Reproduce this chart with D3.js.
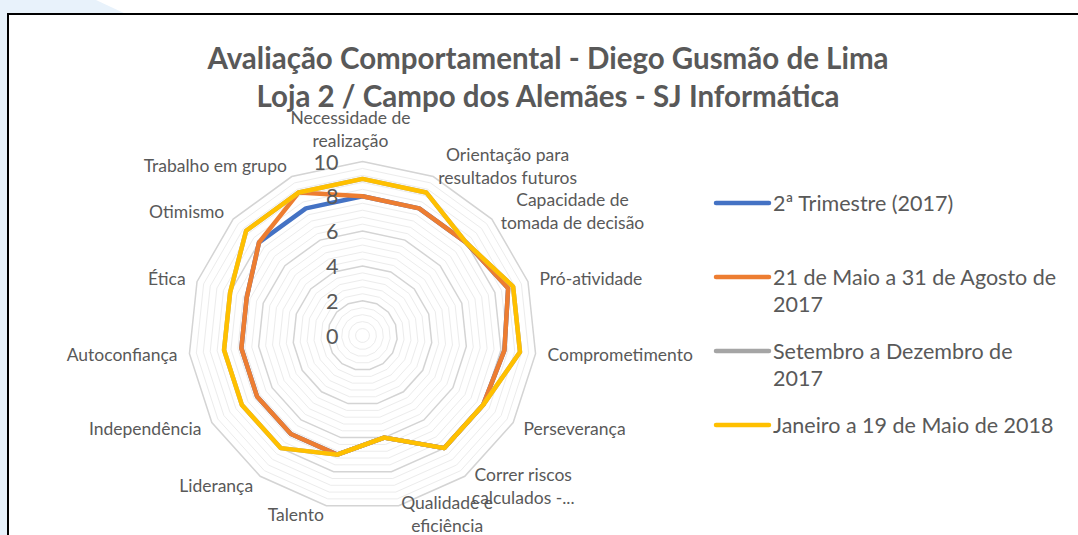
<!DOCTYPE html>
<html>
<head>
<meta charset="utf-8">
<script src="https://cdn.jsdelivr.net/npm/d3@7"></script>
<style>
  body { margin: 0; background: #fff; }
  svg { display: block; font-family: Lato, "Open Sans", sans-serif; }
</style>
</head>
<body>
<svg width="1078" height="535"></svg>
<script>
// categories (one entry per spoke, split in lines like the original labels)
const categories = [
  ["Necessidade de", "realização"],
  ["Orientação para", "resultados futuros"],
  ["Capacidade de", "tomada de decisão"],
  ["Pró-atividade"],
  ["Comprometimento"],
  ["Perseverança"],
  ["Correr riscos", "calculados -..."],
  ["Qualidade e", "eficiência"],
  ["Talento"],
  ["Liderança"],
  ["Independência"],
  ["Autoconfiança"],
  ["Ética"],
  ["Otimismo"],
  ["Trabalho em grupo"]
];

const seriesNames = [
  ["2ª Trimestre (2017)"],
  ["21 de Maio a 31 de Agosto de", "2017"],
  ["Setembro a Dezembro de", "2017"],
  ["Janeiro a 19 de Maio de 2018"]
];
const seriesColors = ["#4472C4", "#ED7D31", "#A5A5A5", "#FFC000"];

const trimestre2017 =        [8, 8, 8, 8.8, 8.2, 8, 8, 6, 7, 7, 7, 7, 7, 8, 8];
const maioAgosto2017 =       [8, 8, 8, 8.8, 8.2, 8, 8, 6, 7, 7, 7, 7, 7, 8, 9];
const setembroDezembro2017 = [9, 9, 8, 9.1, 9.1, 8, 8, 6, 7, 8, 8, 8, 8, 9, 9];
const janeiroMaio2018 =      [9, 9, 8, 9.1, 9.1, 8, 8, 6, 7, 8, 8, 8, 8, 9, 9];

const tickValues = [0, 2, 4, 6, 8, 10];
const titleLines = ["Avaliação Comportamental - Diego Gusmão de Lima",
                    "Loja 2 / Campo dos Alemães - SJ Informática"];

const svg = d3.select("svg");
const cx = 362.5, cy = 335.5, R = 174;
const textColor = "#595959";

// background bits round the chart box
svg.append("rect").attr("width", 1078).attr("height", 535).attr("fill", "#fff");
svg.append("path")
  .attr("d", "M0,0 L96,0 L126,14 L8,14 L8,535 L0,535 Z")
  .attr("fill", "#e8f2fb");
svg.append("rect")
  .attr("x", 8).attr("y", 14).attr("width", 1090).attr("height", 540)
  .attr("fill", "#fff").attr("stroke", "#000").attr("stroke-width", 2);

// title
svg.append("g").selectAll("text")
  .data(titleLines)
  .enter().append("text")
  .attr("x", 548)
  .attr("y", (d, i) => 57 + i * 38)
  .attr("text-anchor", "middle")
  .attr("dominant-baseline", "central")
  .attr("font-weight", "bold")
  .attr("font-size", 29.5)
  .attr("fill", textColor)
  .text(d => d);

const r = d3.scaleLinear().domain([0, 10]).range([0, R]);
const angle = d3.scaleLinear().domain([0, categories.length]).range([0, 2 * Math.PI]);

const g = svg.append("g").attr("transform", `translate(${cx},${cy})`);

// grid polygons: minor every 0.4, major every 2
const gridValues = d3.range(1, 26).map(k => k * 0.4);
const gridLine = d3.lineRadial()
  .angle((d, i) => angle(i))
  .radius(d => r(d))
  .curve(d3.curveLinearClosed);

g.append("g").selectAll("path")
  .data(gridValues.filter(v => Math.abs(v / 2 - Math.round(v / 2)) > 1e-6))
  .enter().append("path")
  .attr("d", v => gridLine(categories.map(() => v)))
  .attr("fill", "none")
  .attr("stroke", "#ececec")
  .attr("stroke-width", 1);

g.append("g").selectAll("path")
  .data(tickValues.filter(v => v > 0))
  .enter().append("path")
  .attr("d", v => gridLine(categories.map(() => v)))
  .attr("fill", "none")
  .attr("stroke", "#d4d4d4")
  .attr("stroke-width", 1.5);

// series lines
const allSeries = [trimestre2017, maioAgosto2017, setembroDezembro2017, janeiroMaio2018];
g.append("g").selectAll("path")
  .data(allSeries)
  .enter().append("path")
  .attr("d", d => gridLine(d))
  .attr("fill", "none")
  .attr("stroke", (d, i) => seriesColors[i])
  .attr("stroke-width", 4.5)
  .attr("stroke-linejoin", "round");

// value axis labels
g.append("g").selectAll("text")
  .data(tickValues)
  .enter().append("text")
  .attr("x", -24)
  .attr("y", d => -r(d))
  .attr("text-anchor", "end")
  .attr("dominant-baseline", "central")
  .attr("font-size", 21.5)
  .attr("fill", textColor)
  .text(d => d);

// category labels
const lineH = 23;
categories.forEach((lines, i) => {
  const a = angle(i);
  const s = Math.sin(a), c = Math.cos(a);
  const ax = (R + 12) * s, ay = -(R + 12) * c;
  const t = g.append("text")
    .attr("font-size", 17.5)
    .attr("fill", textColor)
    .attr("text-anchor", "middle");
  const spans = t.selectAll("tspan").data(lines).enter().append("tspan").text(d => d);
  const widths = spans.nodes().map(n => n.getComputedTextLength());
  const w = d3.max(widths);
  let mid = ax;
  if (s > 0.1) mid = ax + w / 2;
  else if (s < -0.1) mid = ax - w / 2;
  else mid = ax - 12;
  const blockH = lines.length * lineH;
  let top = ay - blockH / 2;
  if (Math.abs(s) < 0.1 && c > 0) top = ay - blockH + 2;
  if (c < -0.9) top -= 3;
  spans
    .attr("x", mid)
    .attr("y", (d, k) => top + lineH / 2 + k * lineH)
    .attr("dominant-baseline", "central");
});

// legend
const legend = svg.append("g");
const legendY = [203, 277, 351, 425];
seriesNames.forEach((lines, i) => {
  legend.append("line")
    .attr("x1", 716).attr("x2", 769)
    .attr("y1", legendY[i]).attr("y2", legendY[i])
    .attr("stroke", seriesColors[i])
    .attr("stroke-width", 4.5)
    .attr("stroke-linecap", "round");
  legend.append("g").selectAll("text")
    .data(lines)
    .enter().append("text")
    .attr("x", 773)
    .attr("y", (d, k) => legendY[i] + k * 27)
    .attr("dominant-baseline", "central")
    .attr("font-size", 21.5)
    .attr("fill", textColor)
    .text(d => d);
});
</script>
</body>
</html>
